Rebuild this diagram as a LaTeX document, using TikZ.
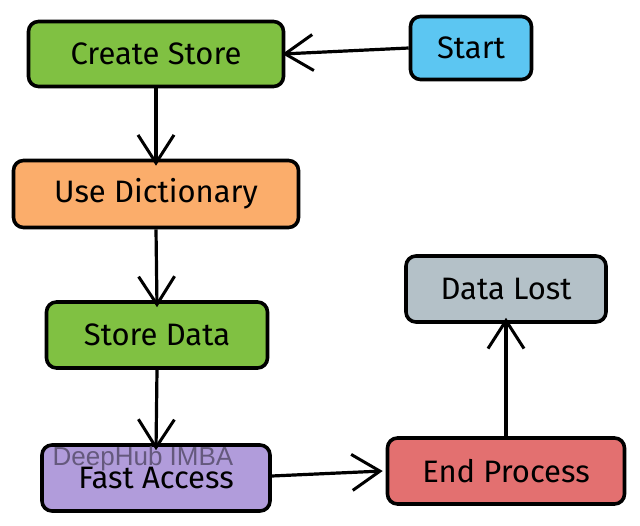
\documentclass[tikz,border=0pt]{standalone}
\usepackage{fontspec}
\setmainfont{Fira Sans}
\newfontfamily\markfont{Liberation Sans}
\usetikzlibrary{arrows.meta}
\definecolor{boxgreen}{HTML}{80C142}
\definecolor{boxorange}{HTML}{FBAD6B}
\definecolor{boxblue}{HTML}{5CC6F2}
\definecolor{boxpurple}{HTML}{B19CDB}
\definecolor{boxred}{HTML}{E37070}
\definecolor{boxgrey}{HTML}{B4C1C8}
\begin{document}
\begin{tikzpicture}[x=1pt,y=-1pt,
    stepbox/.style={draw,line width=3.6pt,rounded corners=10pt,font=\fontsize{31}{34}\selectfont},
    flow/.style={line width=3.2pt,-{Straight Barb[length=28pt,width=36pt,line width=3pt]}}]
                \useasboundingbox (0,0) rectangle (640,525);
                \node[stepbox,fill=boxgreen,minimum width=255pt,minimum height=65pt] (create) at (156,54) {Create Store};
                \node[stepbox,fill=boxblue,minimum width=121pt,minimum height=63pt] (start) at (471,48) {Start};
                \node[stepbox,fill=boxorange,minimum width=285pt,minimum height=67pt] (dict) at (156,194) {Use Dictionary};
                \node[stepbox,fill=boxgreen,minimum width=221pt,minimum height=66pt] (store) at (157,335) {Store Data};
                \node[stepbox,fill=boxpurple,minimum width=228pt,minimum height=66pt] (fast) at (156,478) {Fast Access};
                \node[stepbox,fill=boxred,minimum width=237pt,minimum height=66pt] (endp) at (506,471) {End Process};
                \node[stepbox,fill=boxgrey,minimum width=200pt,minimum height=66pt] (lost) at (506,289) {Data Lost};
                \node[text=black!50!boxpurple,opacity=0.85,font=\fontsize{26}{28}\markfont\selectfont] (mark) at (143,459) {DeepHub IMBA};
                \draw[flow] (start.west) -- ([xshift=-3pt]create.east);
                \draw[flow] (create.south) -- ([yshift=-7pt]dict.north);
                \draw[flow] (dict.south) -- ([yshift=-7pt]store.north);
                \draw[flow] (store.south) -- ([yshift=-7pt]fast.north);
                \draw[flow] ([yshift=2pt]fast.east) -- ([xshift=-3pt]endp.west);
                \draw[flow] (endp.north) -- ([yshift=6pt]lost.south);
            \end{tikzpicture}
\end{document}
